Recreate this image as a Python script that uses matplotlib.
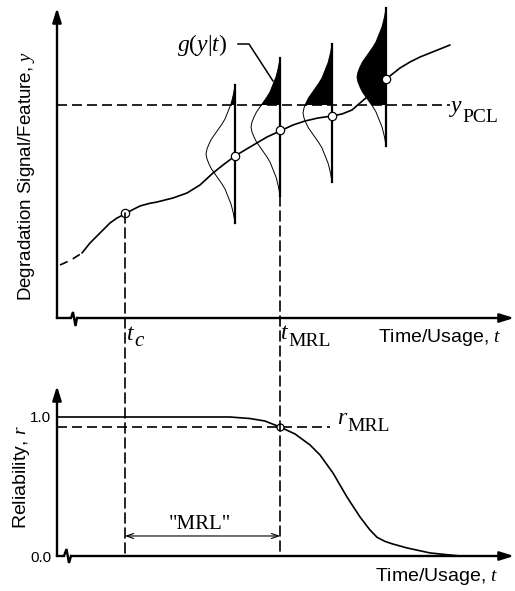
import matplotlib
matplotlib.use("Agg")
import matplotlib.pyplot as plt
from matplotlib.patches import Rectangle, Polygon, ConnectionPatch

plt.rcParams['font.family'] = ['Liberation Sans', 'DejaVu Sans']
plt.rcParams['mathtext.fontset'] = 'custom'
plt.rcParams['mathtext.rm'] = 'Liberation Serif'
plt.rcParams['mathtext.it'] = 'Liberation Serif:italic'
plt.rcParams['mathtext.bf'] = 'Liberation Serif:bold'

# ---------------- data (schematic units) ----------------
# degradation signal, dashed lead-in
lead_t = [3, 14, 25]
lead_y = [53, 58, 65]
# degradation signal, solid
sig_t = [25, 33, 43, 53, 60, 68, 75, 83, 92, 100, 116, 130, 143, 156, 166, 178, 193, 210, 223,
         236, 248, 261, 275, 285, 295, 303, 310, 320, 329, 338, 343, 353, 363, 378, 393]
sig_y = [65, 75, 85, 95, 100, 104, 108, 112, 114.5, 116, 120, 125, 133, 145, 153, 162, 171, 181, 187,
         193, 197, 200, 202, 204, 208, 215, 221, 231, 239, 246, 250, 256, 261, 267, 273]
# observed points on the degradation path
pt_t = [68, 178, 223, 275, 329]
pt_y = [105, 162, 188, 202, 239]
# conditional densities g(y|t)
dens_t = [178, 223, 275, 329]
dens_c = [164, 191, 205, 241]
prof_dy = [-69, -65, -60, -55, -50, -45, -40, -35, -30, -25, -20, -15, -10, -5, 0,
           5, 10, 15, 20, 25, 30, 35, 40, 45, 50, 55, 60, 65, 69]
prof_w = [0, 0.6, 1.5, 2.7, 4, 6, 8, 10, 13, 16.5, 20, 23.5, 26, 28, 29,
          28, 26, 23.5, 20, 16.5, 13, 10, 8, 6, 4, 2.7, 1.5, 0.6, 0]
y_pcl = 213
t_c = 68
t_mrl = 223
# reliability curve
rel_t = [0, 173, 193, 208, 223, 238, 253, 263, 276, 290, 303, 313, 320, 328, 335, 350, 373, 403]
rel_r = [1.0, 1.0, 0.989, 0.971, 0.928, 0.878, 0.799, 0.727, 0.597, 0.424, 0.281,
         0.187, 0.135, 0.105, 0.088, 0.058, 0.022, 0.0]
r_mrl = 0.928
rel_ticks = [0.0, 1.0]
rel_ticklabels = ['0.0', '1.0']

# ---------------- figure ----------------
fig = plt.figure(figsize=(5.15, 5.91), dpi=100)
ax1 = fig.add_axes([57/515, (591-318)/591, 456/515, 310/591])
ax2 = fig.add_axes([57/515, (591-556)/591, 456/515, 170/591])
ax1.set_xlim(0, 456); ax1.set_ylim(0, 310)
ax2.set_xlim(0, 456); ax2.set_ylim(0, 1.223)
for ax in (ax1, ax2):
    for s in ax.spines.values():
        s.set_visible(False)
    ax.set_xticks([])
    ax.patch.set_alpha(0)
ax1.set_yticks([])
ax2.set_yticks(rel_ticks)
ax2.set_yticklabels(rel_ticklabels, fontsize=11)
ax2.tick_params(axis='y', length=0, pad=4)

AX_LW = 1.7
arrow_kw = dict(arrowstyle='-|>,head_length=0.7,head_width=0.22', lw=AX_LW, color='k',
                shrinkA=0, shrinkB=0, mutation_scale=12)
DASH = (0, (6, 3))


def sublabel(ax, x, y, base, sub, size=17, subsize=14, drop=5, gap=0.5, substyle='normal'):
    t = ax.text(x, y, base, fontsize=size, ha='left', va='baseline', clip_on=False,
                family='Liberation Serif', style='italic')
    ax.annotate(sub, xy=(1, y), xycoords=(t, 'data'), xytext=(gap, -drop),
                textcoords='offset points', fontsize=subsize, ha='left', va='baseline',
                family='Liberation Serif', style=substyle, annotation_clip=False)


# --- top axes frame with break ---
ax1.annotate('', xy=(0, 310), xytext=(0, 0), arrowprops=arrow_kw, annotation_clip=False)
ax1.plot([0, 14, 16, 18.5, 20], [0, 0, 6, -8, 0], color='k', lw=AX_LW, clip_on=False,
         solid_joinstyle='miter')
ax1.annotate('', xy=(457, 0), xytext=(20, 0), arrowprops=arrow_kw, annotation_clip=False)

# --- PCL threshold ---
ax1.plot([0, 393], [y_pcl, y_pcl], color='k', lw=1.2, ls=DASH, clip_on=False)

# --- densities ---
for tc_, yc in zip(dens_t, dens_c):
    xs = [tc_ - w for w in prof_w]
    ys = [yc + d for d in prof_dy]
    poly = Polygon(list(zip(xs, ys)) + [(tc_, ys[-1]), (tc_, ys[0])], closed=True,
                   facecolor='k', edgecolor='none', zorder=2)
    ax1.add_patch(poly)
    poly.set_clip_path(Rectangle((0, y_pcl), 456, 200, transform=ax1.transData))
    ax1.plot(xs, ys, color='k', lw=0.7, zorder=2, clip_on=False)
    ax1.plot([tc_, tc_], [ys[0], ys[-1]], color='k', lw=1.6, zorder=3, clip_on=False)

# --- degradation path ---
ax1.plot(lead_t, lead_y, color='k', lw=1.2, ls=(0, (5, 3.5)), zorder=4)
ax1.plot(sig_t, sig_y, color='k', lw=1.2, zorder=4, solid_capstyle='round',
         solid_joinstyle='round')
ax1.plot(pt_t, pt_y, ls='none', marker='o', ms=6, mfc='white', mec='k', mew=0.9, zorder=5)

# --- labels top ---
fig.text(27/515, 1 - 176/591, 'Degradation Signal/Feature, $y$', rotation=90,
         ha='center', va='center', fontsize=13.5)
ax1.text(321, -20, 'Time/Usage, $t$', fontsize=14, ha='left', va='center')
sublabel(ax1, 70, -22, 't', 'c', drop=4, subsize=15, substyle='italic')
sublabel(ax1, 224, -21, 't', 'MRL', drop=5)
sublabel(ax1, 394, 206, 'y', 'PCL', drop=7)
ax1.text(145, 273, '$g(y|t)$', fontsize=17, ha='center', va='center')
ax1.plot([181, 192, 216], [274, 274, 237], color='k', lw=1.1, clip_on=False)

# --- connectors between panels ---
for tt, ytop in [(t_c, pt_y[0]), (t_mrl, dens_c[1] + prof_dy[0])]:
    con = ConnectionPatch(xyA=(tt, ytop), coordsA=ax1.transData,
                          xyB=(tt, 0), coordsB=ax2.transData,
                          color='k', lw=1.2, linestyle=DASH)
    fig.add_artist(con)

# --- bottom axes frame ---
ax2.annotate('', xy=(0, 1.223), xytext=(0, 0), arrowprops=arrow_kw, annotation_clip=False)
ax2.plot([0, 7, 9.5, 12, 14], [0, 0, 0.05, -0.05, 0], color='k', lw=AX_LW, clip_on=False,
         solid_joinstyle='miter')
ax2.annotate('', xy=(457, 0), xytext=(14, 0), arrowprops=arrow_kw, annotation_clip=False)

ax2.plot(rel_t, rel_r, color='k', lw=1.2, zorder=4, solid_joinstyle='round')
ax2.plot([0, 273], [r_mrl, r_mrl], color='k', lw=1.2, ls=DASH, zorder=3)
ax2.plot([t_mrl], [r_mrl], ls='none', marker='o', ms=5, mfc='white', mec='k', mew=0.9, zorder=5)
sublabel(ax2, 280, 0.95, 'r', 'MRL', drop=5)

ax2.annotate('', xy=(t_mrl, 0.144), xytext=(t_c, 0.144),
             arrowprops=dict(arrowstyle='<->,head_length=0.5,head_width=0.18', lw=0.8,
                             color='k', shrinkA=0, shrinkB=0))
ax2.text((t_c + t_mrl) / 2 - 3, 0.225, '"MRL"', fontsize=15, ha='center', va='center',
         family='Liberation Serif')
ax2.text(318, -0.15, 'Time/Usage, $t$', fontsize=14, ha='left', va='center')
fig.text(22/515, 1 - 477/591, 'Reliability, $r$', rotation=90,
         ha='center', va='center', fontsize=14)

fig.savefig('out.png', dpi=100)
